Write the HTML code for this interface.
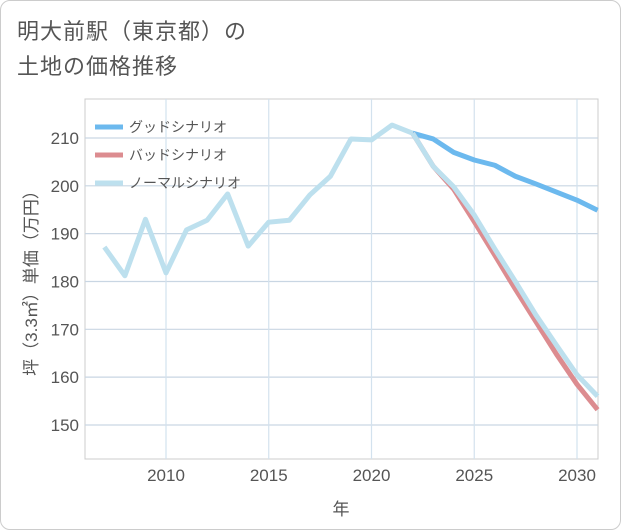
<!DOCTYPE html>
<html><head><meta charset="utf-8"><style>
body{margin:0;background:#fff;}
#card{position:absolute;left:0;top:0;width:619px;height:528px;border:1px solid #ccc;border-radius:10px;background:#fff;font-family:"Liberation Sans","Noto Sans CJK JP",sans-serif;}
#title{position:absolute;left:16px;top:13px;font-size:22px;line-height:35px;color:#555;letter-spacing:1px;}
</style></head><body>
<div id="card">
<div id="title">明大前駅（東京都）の<br>土地の価格推移</div>
<svg id="chart" width="621" height="530" style="position:absolute;left:0;top:0"></svg>
</div>
<script>
const years=[2007,2008,2009,2010,2011,2012,2013,2014,2015,2016,2017,2018,2019,2020,2021,2022];
const history=[187.2,181.2,193,181.8,190.8,192.8,198.3,187.4,192.4,192.8,198.1,202,209.8,209.6,212.7,211];
const futureYears=[2022,2023,2024,2025,2026,2027,2028,2029,2030,2031];
const good=[211,209.8,207,205.4,204.3,202,200.4,198.7,197,194.9];
const bad=[211,204.1,199.3,192.5,185.5,178.4,171.6,164.8,158.5,153.2];
const normal=[211,204.1,199.8,193.9,186.8,180,173,166.7,160.5,156];
const xTicks=[2010,2015,2020,2025,2030];
const yTicks=[150,160,170,180,190,200,210];
const L=84,R=597,T=98,B=458;
const x=v=>165+(v-2010)*20.55;
const y=v=>137+(210-v)*4.783;
const NS="http://www.w3.org/2000/svg";
const svg=document.getElementById('chart');
function mk(t,a){const e=document.createElementNS(NS,t);for(const k in a)e.setAttribute(k,a[k]);svg.appendChild(e);return e;}
let e=mk('rect',{x:L,y:T,width:R-L,height:B-T,fill:'none',stroke:'#ccc'});


yTicks.forEach(v=>{
 let g=mk('line',{x1:L,x2:R,y1:y(v),y2:y(v),stroke:'#c9d6e3','stroke-width':1.2});
 
 
 let t=mk('text',{x:L-6,y:y(v)+6,'text-anchor':'end','font-size':17,fill:'#555'});
 t.textContent=v;
 
 
});
xTicks.forEach(v=>{
 let g=mk('line',{x1:x(v),x2:x(v),y1:T,y2:B,stroke:'#d3e2ee','stroke-width':1.2});
 
 
 let t=mk('text',{x:x(v),y:B+22,'text-anchor':'middle','font-size':17,fill:'#555'});
 t.textContent=v;
 
 
});
let xt=mk('text',{x:340,y:514,'text-anchor':'middle','font-size':17,fill:'#555'});
xt.textContent='年';


let yt=mk('text',{x:0,y:0,'text-anchor':'middle','font-size':17,fill:'#555',transform:'translate(36,278) rotate(-90)'});
yt.textContent='坪（3.3㎡）単価（万円）';


function line(xs,vs,c,name){
 let p=mk('polyline',{points:xs.map((v,i)=>x(v)+','+y(vs[i])).join(' '),fill:'none',stroke:c,'stroke-width':5,'stroke-linejoin':'round'});
 
 
}
line(futureYears,good,'#6cb9ee','good-scenario-line');
line(futureYears,bad,'#dc8c90','bad-scenario-line');
line(futureYears,normal,'#bde0ee','normal-scenario-line');
line(years,history,'#bde0ee','history-line');
const leg=[['グッドシナリオ','#6cb9ee'],['バッドシナリオ','#dc8c90'],['ノーマルシナリオ','#bde0ee']];
leg.forEach((d,i)=>{
 let yy=126+i*28;
 let l=mk('line',{x1:94,x2:122,y1:yy,y2:yy,stroke:d[1],'stroke-width':5});
 
 
 let t=mk('text',{x:128,y:yy+5,'font-size':14,fill:'#555'});
 t.textContent=d[0];
 
 
});
</script>
</body></html>
